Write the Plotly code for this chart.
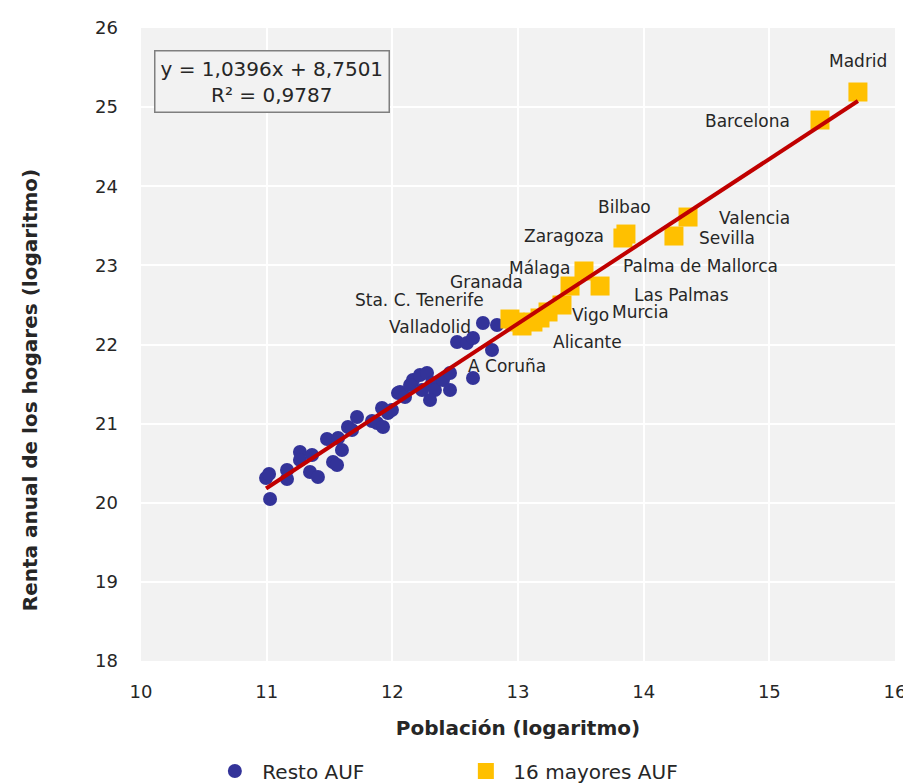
import plotly.graph_objects as go

# Resto AUF (log población, log renta)
resto_x = [11.027, 10.995, 11.019, 11.162, 11.162, 11.265, 11.265, 11.361, 11.345, 11.408,
           11.480, 11.528, 11.568, 11.599, 11.560, 11.647, 11.719, 11.679, 11.838, 11.878,
           11.918, 11.926, 11.965, 12.045, 12.061, 12.101, 11.997, 12.164, 12.220, 12.276,
           12.316, 12.339, 12.300, 12.403, 12.459, 12.459, 12.515, 12.594, 12.642, 12.642,
           12.721, 12.793, 12.833, 12.141, 12.236]
resto_y = [20.047, 20.313, 20.363, 20.414, 20.300, 20.641, 20.540, 20.603, 20.389, 20.325,
           20.806, 20.515, 20.818, 20.667, 20.477, 20.957, 21.084, 20.919, 21.033, 21.008,
           21.198, 20.957, 21.135, 21.387, 21.400, 21.337, 21.172, 21.551, 21.615, 21.640,
           21.513, 21.425, 21.299, 21.551, 21.640, 21.425, 22.032, 22.019, 22.082, 21.577,
           22.272, 21.931, 22.246, 21.488, 21.425]

# 16 mayores AUF
mayores_names = ["Madrid", "Barcelona", "Valencia", "Sevilla", "Bilbao", "Zaragoza",
                 "Málaga", "Palma de Mallorca", "Las Palmas", "Murcia", "Vigo",
                 "A Coruña", "Alicante", "Granada", "Valladolid", "Sta. C. Tenerife"]
mayores_x = [15.705, 15.403, 14.353, 14.241, 13.859, 13.835, 13.525, 13.653, 13.414,
             13.350, 13.239, 13.175, 13.119, 13.032, 12.976, 12.936]
mayores_y = [25.191, 24.837, 23.611, 23.371, 23.396, 23.346, 22.929, 22.739, 22.739,
             22.499, 22.411, 22.335, 22.284, 22.234, 22.284, 22.322]

# Label offsets in pixels (style only)
label_shift = {
    "Madrid": (0, 31), "Barcelona": (-72, -1), "Bilbao": (-1, 27), "Valencia": (66, -1),
    "Sevilla": (53, -2), "Zaragoza": (-59, 2), "Palma de Mallorca": (100, 20),
    "Málaga": (-44, 3), "Las Palmas": (111, -9), "Granada": (-36, 44),
    "Sta. C. Tenerife": (-90, 19), "Valladolid": (-85, -5), "Vigo": (42, -3),
    "Murcia": (79, -7), "Alicante": (55, -20), "A Coruña": (-33, -48),
}

slope, intercept, r2 = 1.0396, 8.7501, 0.9787

x_ticks = [10, 11, 12, 13, 14, 15, 16]
y_ticks = [18, 19, 20, 21, 22, 23, 24, 25, 26]

FONT = "Century Gothic, URW Gothic, DejaVu Sans, sans-serif"
TXT = "#262626"

fig = go.Figure()
fig.add_trace(go.Scatter(x=resto_x, y=resto_y, mode="markers", name="Resto AUF",
                         marker=dict(symbol="circle", size=14, color="#333399")))
fig.add_trace(go.Scatter(x=mayores_x, y=mayores_y, mode="markers", name="16 mayores AUF",
                         marker=dict(symbol="square", size=19, color="#FFC000")))

all_x = resto_x + mayores_x
x0, x1 = min(all_x), max(all_x)
fig.add_trace(go.Scatter(x=[x0, x1], y=[slope * x0 + intercept, slope * x1 + intercept],
                         mode="lines", line=dict(color="#C00000", width=4),
                         showlegend=False, hoverinfo="skip"))

for n, xv, yv in zip(mayores_names, mayores_x, mayores_y):
    dx, dy = label_shift[n]
    fig.add_annotation(x=xv, y=yv, text=n, showarrow=False, xshift=dx, yshift=dy,
                       font=dict(family=FONT, size=17, color=TXT))

eq = f"y = {slope:.4f}x + {intercept:.4f}".replace(".", ",") + "<br>" + f"R² = {r2:.4f}".replace(".", ",")
fig.add_annotation(xref="paper", yref="paper", x=0.174, y=0.915, xanchor="center", yanchor="middle",
                   text=eq, showarrow=False,
                   align="center", font=dict(family=FONT, size=20, color=TXT),
                   bordercolor="#7F7F7F", borderwidth=1.5, borderpad=5, bgcolor="#F2F2F2")

# Y-axis title (placed as rotated annotation to match the reference offset)
fig.add_annotation(xref="paper", yref="paper", x=-0.147, y=0.428, xanchor="center",
                   yanchor="middle", textangle=-90, showarrow=False,
                   text="<b>Renta anual de los hogares (logaritmo)</b>",
                   font=dict(family=FONT, size=20, color=TXT))

fig.update_layout(
    width=911, height=783,
    margin=dict(l=133, r=24, t=20, b=130),
    paper_bgcolor="white", plot_bgcolor="#F2F2F2",
    font=dict(family=FONT, size=18, color=TXT),
    legend=dict(orientation="h", x=0.088, xanchor="left", yref="container", y=0.0255,
                yanchor="middle",
                font=dict(family=FONT, size=20, color=TXT), entrywidth=191, entrywidthmode="pixels",
                itemwidth=45, bgcolor="rgba(0,0,0,0)"),
    xaxis=dict(range=[10, 16], tickvals=x_ticks, showgrid=True, gridcolor="white", gridwidth=2,
               zeroline=False, showline=False, ticks="", tickfont=dict(size=18),
               ticklabelstandoff=18, automargin=False,
               title=dict(text="<b>Población (logaritmo)</b>", font=dict(size=20), standoff=19)),
    yaxis=dict(range=[18, 26], tickvals=y_ticks, showgrid=True, gridcolor="white", gridwidth=2,
               zeroline=False, showline=False, ticks="", tickfont=dict(size=18),
               ticklabelstandoff=22, automargin=False),
)

fig.write_html("out.html")
